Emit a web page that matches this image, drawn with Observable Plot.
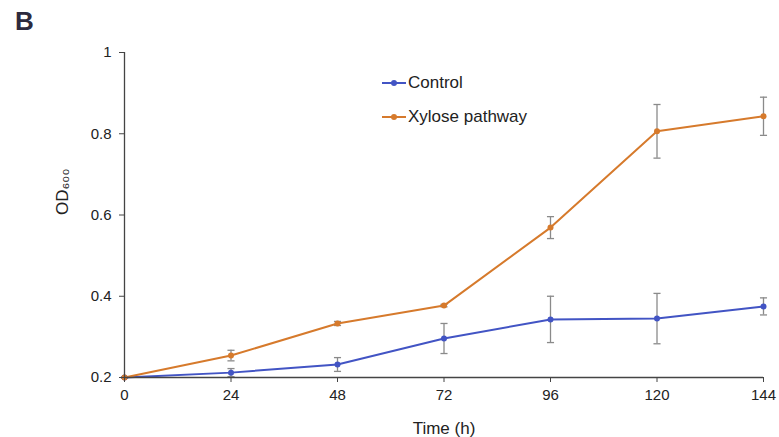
<!DOCTYPE html>
<html>
<head>
<meta charset="utf-8">
<script src="https://cdn.jsdelivr.net/npm/d3@7"></script>
<script src="https://cdn.jsdelivr.net/npm/@observablehq/plot@0.6"></script>
<style>
  body { margin: 0; background: #fff; }
  #wrap { position: relative; width: 779px; height: 437px; overflow: hidden; font-family: "Liberation Sans", Arial, sans-serif; }
  #panel { position: absolute; left: 15px; top: 6px; font-size: 26px; font-weight: bold; color: #2d2a3e; }
  .leg { position: absolute; left: 382px; font-size: 17px; color: #222; display: flex; align-items: center; }
  .leg .sw { position: relative; width: 24px; height: 2px; margin-right: 2px; }
  .leg .sw i { position: absolute; left: 9px; top: -2px; width: 6px; height: 6px; border-radius: 3px; }
</style>
</head>
<body>
<div id="wrap">
  <div id="chart"></div>
  <div id="panel">B</div>
  <div class="leg" style="top:73px"><span class="sw" style="background:#4254c4"><i style="background:#4254c4"></i></span>Control</div>
  <div class="leg" style="top:107px"><span class="sw" style="background:#d67a2c"><i style="background:#d67a2c"></i></span>Xylose pathway</div>
</div>
<script>
const times = [0, 24, 48, 72, 96, 120, 144];
const controlOD = [0.200, 0.212, 0.232, 0.296, 0.343, 0.345, 0.375];
const controlErr = [0.002, 0.010, 0.017, 0.037, 0.057, 0.062, 0.021];
const xyloseOD = [0.200, 0.254, 0.333, 0.377, 0.569, 0.806, 0.843];
const xyloseErr = [0.002, 0.013, 0.005, 0.003, 0.027, 0.066, 0.047];
const seriesNames = ["Control", "Xylose pathway"];
const seriesColors = ["#4254c4", "#d67a2c"];
const xTicks = [0, 24, 48, 72, 96, 120, 144];
const yTicks = [0.2, 0.4, 0.6, 0.8, 1];

const rows = [];
times.forEach((t, i) => {
  rows.push({series: seriesNames[0], t, od: controlOD[i], err: controlErr[i]});
  rows.push({series: seriesNames[1], t, od: xyloseOD[i], err: xyloseErr[i]});
});
const capHalf = 0.8;
const yFmt = d => d === 1 ? "1" : d3.format(".1f")(d);

const chart = Plot.plot({
  width: 779,
  height: 437,
  marginLeft: 124,
  marginRight: 16,
  marginTop: 52,
  marginBottom: 60,
  style: {fontFamily: "'Liberation Sans', Arial, sans-serif", fontSize: "15px", color: "#222", background: "#fff"},
  x: {domain: [0, 144], ticks: xTicks, label: null},
  y: {domain: [0.2, 1], ticks: yTicks, label: null, tickFormat: yFmt},
  color: {domain: seriesNames, range: seriesColors},
  marks: [
    Plot.ruleX(rows, {x: "t", y1: d => d.od - d.err, y2: d => d.od + d.err, stroke: "#8a8a8a", strokeWidth: 1.3}),
    Plot.link(rows, {x1: d => d.t - capHalf, x2: d => d.t + capHalf, y1: d => d.od - d.err, y2: d => d.od - d.err, stroke: "#8a8a8a", strokeWidth: 1.3}),
    Plot.link(rows, {x1: d => d.t - capHalf, x2: d => d.t + capHalf, y1: d => d.od + d.err, y2: d => d.od + d.err, stroke: "#8a8a8a", strokeWidth: 1.3}),
    Plot.line(rows, {x: "t", y: "od", z: "series", stroke: "series", strokeWidth: 2}),
    Plot.dot(rows, {x: "t", y: "od", fill: "series", r: 3}),
    Plot.ruleY([0.2], {stroke: "#444", strokeWidth: 1.3}),
    Plot.ruleX([0], {stroke: "#444", strokeWidth: 1.3}),
    Plot.axisX({ticks: xTicks, tickSize: 5, tickPadding: 7, label: null, stroke: "#444"}),
    Plot.axisY({ticks: yTicks, tickSize: 5, tickPadding: 8, label: null, stroke: "#444", tickFormat: yFmt}),
    Plot.text(["Time (h)"], {frameAnchor: "bottom", lineAnchor: "middle", dy: 51, fontSize: 17, fill: "#222"}),
    Plot.text(["OD₆₀₀"], {frameAnchor: "left", dx: -62, rotate: -90, fontSize: 17, fill: "#222"})
  ]
});
document.getElementById("chart").appendChild(chart);
</script>
</body>
</html>
